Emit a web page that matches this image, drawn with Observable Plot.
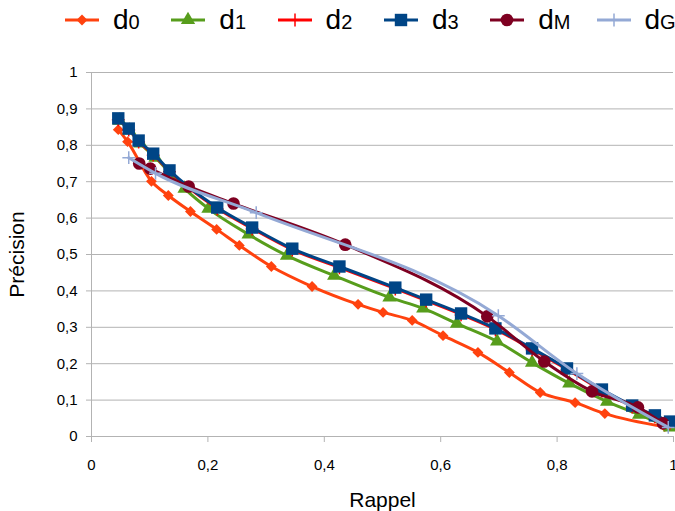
<!DOCTYPE html>
<html><head><meta charset="utf-8">
<script src="https://cdn.jsdelivr.net/npm/d3@7"></script>
<script src="https://cdn.jsdelivr.net/npm/@observablehq/plot@0.6"></script>
<style>
body{margin:0;background:#fff;font-family:"Liberation Sans Narrow","Liberation Sans",Arial,sans-serif;}
#legend{position:relative;height:40px;width:675px;}
.item{position:absolute;top:0;height:40px;display:flex;align-items:center;}
.lab{font-size:28px;color:#000;margin-left:13px;line-height:1;}
.lab span{font-size:20px;}
g[aria-label$="axis label"]{font-size:21px;font-family:"Liberation Sans",Arial,sans-serif;}
</style></head><body>
<div id="legend"></div><div id="chart"></div>
<script>
// ---- data ----
const seriesNames = ["d0", "d1", "d2", "d3", "dM", "dG"];
const xTicks = [0, 0.2, 0.4, 0.6, 0.8, 1];
const yTicks = [0, 0.1, 0.2, 0.3, 0.4, 0.5, 0.6, 0.7, 0.8, 0.9, 1];

const recall_d0 = [0.046,0.062,0.103,0.132,0.170,0.215,0.254,0.309,0.379,0.458,0.501,0.551,0.604,0.664,0.718,0.771,0.831,0.882,0.985];
const prec_d0   = [0.843,0.810,0.701,0.662,0.618,0.569,0.525,0.467,0.412,0.363,0.341,0.319,0.277,0.231,0.176,0.121,0.093,0.063,0.027];

const recall_d1 = [0.048,0.065,0.084,0.110,0.160,0.201,0.270,0.336,0.417,0.512,0.570,0.628,0.697,0.757,0.821,0.886,0.941,0.994];
const prec_d1   = [0.868,0.841,0.805,0.766,0.681,0.626,0.555,0.497,0.442,0.382,0.352,0.310,0.261,0.203,0.146,0.096,0.060,0.025];

const recall_d2 = [0.046,0.064,0.081,0.106,0.134,0.216,0.276,0.345,0.426,0.522,0.575,0.635,0.694,0.757,0.817,0.877,0.929,0.968,0.994];
const prec_d2   = [0.870,0.842,0.809,0.773,0.727,0.625,0.570,0.512,0.463,0.405,0.372,0.334,0.293,0.238,0.183,0.125,0.081,0.054,0.037];

const recall_d3 = [0.046,0.064,0.081,0.106,0.134,0.216,0.276,0.345,0.426,0.522,0.575,0.635,0.694,0.757,0.817,0.877,0.929,0.968,0.994];
const prec_d3   = [0.874,0.846,0.813,0.777,0.731,0.629,0.574,0.516,0.467,0.409,0.376,0.338,0.297,0.242,0.187,0.129,0.085,0.058,0.041];

const recall_dM = [0.082,0.101,0.167,0.244,0.436,0.680,0.778,0.860,0.939,0.982];
const prec_dM   = [0.750,0.736,0.687,0.640,0.527,0.330,0.206,0.124,0.080,0.036];

const recall_dG = [0.064,0.110,0.283,0.699,0.834,0.991];
const prec_dG   = [0.766,0.723,0.615,0.332,0.173,0.025];

// ---- styles ----
const styles = {
  d0: {color:"#ff420e", symbol:"diamond2", r:4.9, filled:true,  sub:"0"},
  d1: {color:"#579d1c", symbol:"triangle", r:5.3, filled:true,  sub:"1"},
  d2: {color:"#ff0000", symbol:"plus",     r:4.2, filled:false, sub:"2"},
  d3: {color:"#004586", symbol:"square",   r:7,   filled:true,  sub:"3"},
  dM: {color:"#7e0021", symbol:"circle",   r:6.3, filled:true,  sub:"M"},
  dG: {color:"#94a9d5", symbol:"plus",     r:4.2, filled:false, sub:"G"}
};
const recalls = {d0:recall_d0,d1:recall_d1,d2:recall_d2,d3:recall_d3,dM:recall_dM,dG:recall_dG};
const precs   = {d0:prec_d0,d1:prec_d1,d2:prec_d2,d3:prec_d3,dM:prec_dM,dG:prec_dG};

const fmt = d => String(d).replace(".", ",");

// ---- legend ----
const legend = document.getElementById("legend");
const symbolMap = {diamond2:d3.symbolDiamond2, triangle:d3.symbolTriangle, plus:d3.symbolPlus, square:d3.symbolSquare, circle:d3.symbolCircle};
seriesNames.forEach((name, i) => {
  const s = styles[name];
  const item = document.createElement("div");
  item.className = "item";
  item.style.left = (64 + i * 106.3) + "px";
  const path = d3.symbol(symbolMap[s.symbol], Math.PI * s.r * s.r)();
  item.innerHTML =
    `<svg width="36" height="20" viewBox="0 0 36 20">
       <line x1="1" y1="10" x2="35" y2="10" stroke="${s.color}" stroke-width="3"/>
       <path transform="translate(18,10)" d="${path}" fill="${s.filled ? s.color : "none"}" stroke="${s.color}" stroke-width="${s.filled ? 0 : 1.5}"/>
     </svg><div class="lab">d<span>${s.sub}</span></div>`;
  legend.appendChild(item);
});

// ---- marks ----
const seriesMarks = seriesNames.flatMap(name => {
  const s = styles[name];
  const data = recalls[name].map((x, k) => ({x, y: precs[name][k]}));
  return [
    Plot.line(data, {x:"x", y:"y", stroke:s.color, strokeWidth: name === "d2" ? 2 : 3, curve:"monotone-x"}),
    Plot.dot(data, {x:"x", y:"y", symbol:s.symbol, r:s.r,
      fill: s.filled ? s.color : "none", stroke: s.color, strokeWidth: s.filled ? 0 : 1.5})
  ];
});

const chart = Plot.plot({
  width: 675, height: 471,
  marginTop: 32, marginBottom: 75, marginLeft: 91, marginRight: 2,
  style: {fontFamily: "Liberation Sans Narrow, Liberation Sans, Arial, sans-serif", fontSize: "15px", color: "#000", background: "#fff"},
  x: {domain: [0, 1]},
  y: {domain: [0, 1]},
  marks: [
    Plot.gridY(yTicks, {stroke: "#b3b3b3", strokeOpacity: 1, strokeWidth: 1}),
    Plot.axisY(yTicks, {tickSize: 5, tickPadding: 9, tickFormat: fmt, stroke: "#b3b3b3",
      label: "Précision", labelAnchor: "center", labelArrow: "none", labelOffset: 82}),
    Plot.axisX(xTicks, {tickSize: 6, tickPadding: 17, tickFormat: fmt, stroke: "#b3b3b3",
      label: "Rappel", labelAnchor: "center", labelArrow: "none", labelOffset: 70}),
    Plot.frame({anchor: "left", stroke: "#b3b3b3", strokeOpacity: 1}),
    Plot.frame({anchor: "bottom", stroke: "#b3b3b3", strokeOpacity: 1}),
    ...seriesMarks
  ]
});
document.getElementById("chart").appendChild(chart);
</script>
</body></html>
